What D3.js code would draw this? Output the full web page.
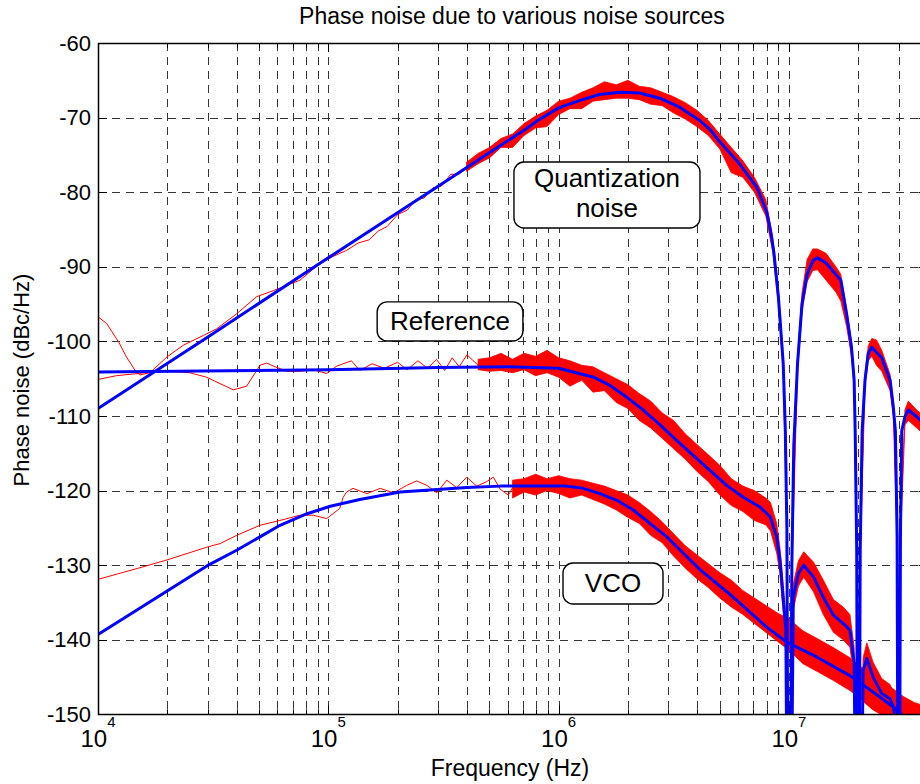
<!DOCTYPE html>
<html>
<head>
<meta charset="utf-8">
<script src="https://cdn.jsdelivr.net/npm/d3@7"></script>
<style>
  body { margin: 0; background: #fff; }
  svg { display: block; }
  text { font-family: Arial, "Liberation Sans", Helvetica, sans-serif; fill: #000; }
</style>
</head>
<body>
<svg id="chart" width="920" height="784"></svg>
<script>
// axis ticks
const xMajor = [1e4, 1e5, 1e6, 1e7];
const yTicks = [-150, -140, -130, -120, -110, -100, -90, -80, -70, -60];

// smooth model curves (blue), [Hz, dBc/Hz]
const quantModel = [
  [1e4, -109.0], [3e4, -99.4], [1e5, -88.8], [3e5, -79.2], [5e5, -74.7], [7e5, -71.8],
  [8.3e5, -70.2], [1.0e6, -68.7], [1.24e6, -67.7], [1.5e6, -66.9], [1.85e6, -66.6],
  [2.25e6, -66.7], [2.75e6, -67.4], [3.35e6, -68.6], [4.1e6, -70.4], [4.55e6, -71.6],
  [5.0e6, -73.2], [6.1e6, -76.2], [7.25e6, -79.3], [8.0e6, -82.6], [8.3e6, -85.0],
  [8.6e6, -88.0], [9.0e6, -94.0], [9.45e6, -103.0], [9.65e6, -112.0], [9.8e6, -125.0],
  [1.0e7, -200], [1.03e7, -130.0], [1.05e7, -114.0], [1.09e7, -103.0], [1.14e7, -95.0],
  [1.2e7, -91.0], [1.27e7, -89.2], [1.33e7, -88.8], [1.45e7, -89.5], [1.68e7, -91.8],
  [1.78e7, -96.3], [1.87e7, -100.8], [1.92e7, -105.2], [1.94e7, -112.0], [1.97e7, -128.0],
  [2.0e7, -200], [2.04e7, -128.0], [2.08e7, -112.0], [2.14e7, -105.2], [2.21e7, -101.6],
  [2.29e7, -100.8], [2.53e7, -102.2], [2.75e7, -105.2], [2.84e7, -108.8], [2.9e7, -112.0],
  [2.95e7, -126.0], [3.0e7, -200], [3.05e7, -126.0], [3.09e7, -112.0], [3.19e7, -110.1],
  [3.3e7, -109.2], [3.59e7, -110.1], [4.0e7, -111.5]
];
const refModel = [
  [1e4, -104.1], [1e5, -103.8], [3e5, -103.5], [6e5, -103.4], [1.0e6, -103.6],
  [1.42e6, -104.8], [1.67e6, -105.9], [1.98e6, -107.5], [2.33e6, -109.2], [2.76e6, -111.2],
  [3.26e6, -113.3], [3.85e6, -115.3], [4.54e6, -117.3], [5.37e6, -119.3], [6.34e6, -120.9],
  [7.49e6, -122.2], [8.28e6, -123.5], [8.85e6, -126.2], [9.14e6, -129.3], [9.3e6, -132.0],
  [9.7e6, -138.7], [1.0e7, -200], [1.045e7, -134.3], [1.1e7, -131.1], [1.16e7, -130.0],
  [1.28e7, -131.6], [1.41e7, -134.3], [1.56e7, -136.7], [1.72e7, -137.8], [1.84e7, -138.7],
  [1.92e7, -143.0], [2.0e7, -200], [2.1e7, -144.1], [2.18e7, -142.5], [2.32e7, -145.0],
  [2.53e7, -147.2], [2.75e7, -147.9], [2.84e7, -149.0], [2.95e7, -152.0], [3.0e7, -200]
];
const vcoModel = [
  [1e4, -139.3], [2.97e4, -130.1], [4.0e4, -128.0], [5.05e4, -126.2], [6.17e4, -124.65],
  [8.09e4, -123.1], [1.02e5, -122.1], [1.37e5, -121.2], [2.05e5, -120.2], [2.86e5, -119.9],
  [4.0e5, -119.6], [5.57e5, -119.4], [7.77e5, -119.4], [1.08e6, -119.4], [1.28e6, -119.7],
  [1.51e6, -120.4], [1.79e6, -121.3], [2.11e6, -122.6], [2.49e6, -124.4], [2.95e6, -126.2],
  [3.48e6, -128.4], [4.11e6, -130.6], [5.74e6, -134.3], [8.01e6, -138.3], [9.78e6, -140.3],
  [1.32e7, -142.3], [1.84e7, -144.8], [2.32e7, -147.0], [2.84e7, -149.0], [3.14e7, -150.3],
  [4.0e7, -152.0]
];

// simulated curves (red): smooth low-frequency part as a line
const quantSimLine = [
  [1e4, -96.7], [1.09e4, -97.6], [1.23e4, -100.1], [1.33e4, -102.1], [1.45e4, -103.9],
  [1.52e4, -104.5], [1.68e4, -104.2], [1.99e4, -102.1], [2.35e4, -100.5], [2.87e4, -99.2],
  [3.28e4, -98.3], [4.0e4, -96.3], [4.89e4, -94.0], [5.77e4, -93.2], [7.53e4, -91.8],
  [9.0e4, -89.8], [1.05e5, -88.6], [1.2e5, -87.8], [1.35e5, -86.8], [1.5e5, -86.4],
  [1.65e5, -85.2], [1.8e5, -84.6], [2.0e5, -83.0], [2.2e5, -82.4], [2.4e5, -81.0],
  [2.6e5, -80.8], [2.85e5, -79.4], [3.1e5, -79.2], [3.4e5, -77.6], [3.7e5, -77.6],
  [3.98e5, -76.6]
];
const refSimLine = [
  [1e4, -105.1], [1.2e4, -104.6], [1.5e4, -104.3], [1.68e4, -104.1], [2e4, -104.0],
  [2.5e4, -104.2], [2.96e4, -104.8], [3.87e4, -106.5], [4.42e4, -106.0], [5.05e4, -103.2],
  [5.4e4, -102.9], [5.77e4, -103.3], [6.6e4, -104.0], [7.53e4, -104.0], [8.6e4, -103.8],
  [9.84e4, -104.3], [1.09e5, -103.3], [1.26e5, -102.6], [1.37e5, -103.9], [1.55e5, -103.0],
  [1.75e5, -103.6], [2.0e5, -102.8], [2.2e5, -103.8], [2.45e5, -102.6], [2.7e5, -103.6],
  [2.95e5, -102.4], [3.2e5, -103.9], [3.45e5, -102.2], [3.7e5, -103.4], [4.0e5, -101.8],
  [4.47e5, -103.2]
];
const vcoSimLine = [
  [1e4, -131.9], [1.62e4, -130.1], [1.99e4, -129.3], [2.96e4, -127.6], [3.39e4, -127.1],
  [4.0e4, -126.0], [5.05e4, -124.65], [6.17e4, -124.0], [7.53e4, -123.3], [8.6e4, -123.3],
  [9.84e4, -123.75], [1.12e5, -122.4], [1.16e5, -120.9], [1.2e5, -120.2], [1.28e5, -119.7],
  [1.47e5, -120.4], [1.68e5, -119.7], [1.92e5, -120.3], [2.19e5, -119.3], [2.42e5, -118.7],
  [2.68e5, -119.3], [2.96e5, -120.3], [3.27e5, -118.6], [3.61e5, -119.6], [3.99e5, -118.2],
  [4.41e5, -119.4], [4.87e5, -118.8], [5.21e5, -118.2], [5.57e5, -119.8], [6.05e5, -120.6],
  [6.31e5, -119.6]
];

// simulated curves (red): noisy part as [Hz, low, high] envelope
const quantSimBand = [
  [3.98e5, -77.2, -76.0], [4.47e5, -76.2, -74.8], [5.01e5, -75.4, -74.0], [5.62e5, -74.0, -72.8],
  [6.31e5, -74.0, -72.2], [7.08e5, -72.4, -70.8], [7.94e5, -71.4, -69.8], [8.91e5, -71.2, -69.0],
  [1.0e6, -69.6, -67.8], [1.12e6, -68.8, -67.4], [1.26e6, -68.8, -66.6], [1.41e6, -67.8, -66.0],
  [1.58e6, -67.6, -65.2], [1.78e6, -67.4, -65.6], [2.0e6, -67.4, -65.0], [2.24e6, -67.6, -65.8],
  [2.51e6, -68.2, -66.0], [2.82e6, -68.4, -66.6], [3.16e6, -69.4, -67.2], [3.55e6, -70.2, -68.0],
  [3.98e6, -71.2, -69.0], [4.47e6, -72.4, -70.4], [5.01e6, -74.2, -72.2], [5.62e6, -77.4, -74.0],
  [6.31e6, -78.0, -75.8], [7.08e6, -80.0, -78.0], [7.94e6, -83.2, -81.0], [8.51e6, -88.0, -86.0],
  [9.0e6, -95.0, -93.0], [9.45e6, -104.0, -102.0], [9.8e6, -126.0, -124.0], [1.0e7, -200, -200],
  [1.03e7, -131.0, -129.0], [1.09e7, -104.0, -102.0], [1.14e7, -96.0, -93.5], [1.2e7, -92.0, -89.0],
  [1.27e7, -90.5, -87.6], [1.33e7, -90.4, -87.6], [1.45e7, -91.8, -88.2], [1.6e7, -93.4, -90.0],
  [1.68e7, -94.6, -91.0], [1.78e7, -98.0, -95.6], [1.87e7, -102.0, -100.0], [1.92e7, -106.0, -104.5],
  [1.97e7, -129.0, -127.0], [2.0e7, -200, -200], [2.04e7, -129.0, -127.0], [2.14e7, -106.0, -104.4],
  [2.21e7, -102.6, -100.6], [2.29e7, -102.0, -99.6], [2.4e7, -103.2, -99.8], [2.53e7, -104.0, -101.2],
  [2.75e7, -106.6, -104.4], [2.84e7, -110.0, -108.0], [2.95e7, -127.0, -125.0], [3.0e7, -200, -200],
  [3.05e7, -127.0, -125.0], [3.19e7, -111.2, -109.2], [3.3e7, -110.6, -108.0], [3.59e7, -111.6, -109.2],
  [4.0e7, -113.0, -110.5]
];
const refSimBand = [
  [4.47e5, -103.8, -102.4], [5.01e5, -104.0, -102.2], [5.62e5, -103.9, -101.6], [6.31e5, -104.2, -102.4],
  [7.08e5, -103.8, -101.6], [7.94e5, -104.6, -102.0], [8.91e5, -104.2, -101.2], [1.0e6, -104.8, -102.2],
  [1.12e6, -106.0, -102.6], [1.26e6, -105.2, -103.2], [1.41e6, -106.8, -103.4], [1.58e6, -106.6, -104.2],
  [1.78e6, -108.2, -105.0], [2.0e6, -109.0, -105.8], [2.24e6, -110.6, -107.0], [2.51e6, -111.6, -108.0],
  [2.82e6, -113.0, -109.6], [3.16e6, -114.4, -110.6], [3.55e6, -115.8, -112.4], [3.98e6, -117.4, -113.8],
  [4.47e6, -118.8, -115.2], [5.01e6, -120.6, -116.6], [5.62e6, -122.0, -118.4], [6.31e6, -122.8, -119.4],
  [7.08e6, -124.0, -120.0], [7.94e6, -124.6, -121.0], [8.32e6, -125.4, -121.6], [8.85e6, -128.4, -124.4],
  [9.14e6, -131.0, -127.6], [9.3e6, -134.0, -130.0], [9.7e6, -140.0, -137.0], [1.0e7, -200, -200],
  [1.045e7, -136.0, -132.5], [1.1e7, -132.8, -129.4], [1.16e7, -131.6, -128.2], [1.28e7, -133.6, -129.6],
  [1.41e7, -136.6, -132.0], [1.56e7, -139.0, -134.6], [1.72e7, -140.0, -135.6], [1.84e7, -141.0, -136.6],
  [1.92e7, -145.0, -141.0], [2.0e7, -200, -200], [2.1e7, -146.0, -142.4], [2.18e7, -144.6, -140.4],
  [2.32e7, -147.2, -143.0], [2.53e7, -149.2, -145.2], [2.75e7, -150.5, -146.0], [2.84e7, -152.0, -147.0],
  [2.95e7, -156.0, -150.0], [3.0e7, -200, -200]
];
const vcoSimBand = [
  [6.31e5, -121.0, -118.6], [7.08e5, -120.2, -118.4], [7.94e5, -120.6, -117.8], [8.91e5, -120.0, -118.4],
  [1.0e6, -120.4, -118.0], [1.12e6, -121.0, -118.4], [1.26e6, -120.6, -118.6], [1.41e6, -121.2, -119.0],
  [1.58e6, -121.8, -119.4], [1.78e6, -122.6, -120.0], [2.0e6, -123.6, -120.6], [2.24e6, -124.4, -121.6],
  [2.51e6, -126.0, -122.8], [2.82e6, -127.0, -124.2], [3.16e6, -128.8, -125.8], [3.55e6, -130.4, -127.4],
  [3.98e6, -131.8, -128.6], [4.47e6, -133.0, -129.8], [5.01e6, -134.4, -131.0], [5.62e6, -135.6, -132.0],
  [6.31e6, -136.6, -133.4], [7.08e6, -137.8, -134.4], [7.94e6, -139.0, -135.4], [8.91e6, -140.2, -136.4],
  [1.0e7, -141.4, -137.2], [1.15e7, -143.2, -138.8], [1.32e7, -144.2, -139.8], [1.55e7, -145.4, -141.0],
  [1.84e7, -146.8, -142.4], [2.05e7, -148.0, -143.6], [2.32e7, -149.4, -144.6], [2.84e7, -151.0, -146.6],
  [3.14e7, -152.0, -147.6], [3.5e7, -153.0, -148.4], [4.0e7, -154.0, -149.0]
];

// text boxes on the plot: label lines, corners in data units
const boxes = [
  { lines: ['Quantization', 'noise'], f0: 6.4e5, v0: -75.95, f1: 4.11e6, v1: -84.8 },
  { lines: ['Reference'], f0: 1.63e5, v0: -94.7, f1: 7.0e5, v1: -99.95 },
  { lines: ['VCO'], f0: 1.045e6, v0: -129.7, f1: 2.84e6, v1: -135.2 }
];

const svg = d3.select('#chart');
const mLeft = 98, mTop = 43, mBottom = 714.4;
const x = d3.scaleLog().domain([1e4, 4e7]).range([mLeft, mLeft + 230.3 * Math.log10(4000)]);
const y = d3.scaleLinear().domain([-150, -60]).range([mBottom, mTop]);
const mRight = x.range()[1];

svg.append('defs').append('clipPath').attr('id', 'plotclip')
  .append('rect')
  .attr('x', mLeft).attr('y', mTop)
  .attr('width', mRight - mLeft).attr('height', mBottom - mTop);

// grid
const grid = svg.append('g').attr('stroke', '#111').attr('stroke-width', 1)
  .attr('stroke-dasharray', '8,6').attr('opacity', 0.85);
grid.selectAll('line.gx').data(x.ticks()).join('line')
  .attr('x1', d => Math.round(x(d)) + 0.5).attr('x2', d => Math.round(x(d)) + 0.5)
  .attr('y1', mTop).attr('y2', mBottom);
grid.selectAll('line.gy').data(yTicks).join('line')
  .attr('x1', mLeft).attr('x2', mRight)
  .attr('y1', d => Math.round(y(d)) + 0.5).attr('y2', d => Math.round(y(d)) + 0.5);

// ticks (inside)
const ticks = svg.append('g').attr('stroke', '#000').attr('stroke-width', 1);
x.ticks().forEach(d => {
  const len = xMajor.includes(d) ? 9 : 5;
  const px = Math.round(x(d)) + 0.5;
  ticks.append('line').attr('x1', px).attr('x2', px).attr('y1', mBottom).attr('y2', mBottom - len);
  ticks.append('line').attr('x1', px).attr('x2', px).attr('y1', mTop).attr('y2', mTop + len);
});
yTicks.forEach(d => {
  const py = Math.round(y(d)) + 0.5;
  ticks.append('line').attr('x1', mLeft).attr('x2', mLeft + 9).attr('y1', py).attr('y2', py);
  ticks.append('line').attr('x1', mRight).attr('x2', mRight - 9).attr('y1', py).attr('y2', py);
});

// curves
const plot = svg.append('g').attr('clip-path', 'url(#plotclip)');
const line = d3.line().x(d => x(d[0])).y(d => y(d[1]));
const band = d3.area().x(d => x(d[0])).y0(d => y(d[1])).y1(d => y(d[2]));

[quantSimBand, refSimBand, vcoSimBand].forEach(b => {
  plot.append('path').datum(b).attr('d', band)
    .attr('fill', '#ff0000').attr('stroke', '#ff0000').attr('stroke-width', 0.8);
});
[quantSimLine, refSimLine, vcoSimLine].forEach(l => {
  plot.append('path').datum(l).attr('d', line)
    .attr('fill', 'none').attr('stroke', '#ff0000').attr('stroke-width', 1);
});
[quantModel, refModel, vcoModel].forEach(m => {
  plot.append('path').datum(m).attr('d', line)
    .attr('fill', 'none').attr('stroke', '#0000ff').attr('stroke-width', 3)
    .attr('stroke-linejoin', 'round');
});

// axes box
svg.append('path')
  .attr('d', `M${mLeft + 0.5},${mTop}V${mBottom}H${mRight}M${mLeft},${mTop + 0.5}H${mRight}`)
  .attr('fill', 'none').attr('stroke', '#000').attr('stroke-width', 1.5);

// tick labels
svg.selectAll('text.ylab').data(yTicks).join('text')
  .attr('x', 91).attr('y', d => y(d) + 7.5)
  .attr('text-anchor', 'end').attr('font-size', 22)
  .text(d => d);

const xl = svg.selectAll('text.xlab').data(xMajor).join('text')
  .attr('x', d => x(d)).attr('y', 747)
  .attr('text-anchor', 'middle');
xl.append('tspan').attr('font-size', 24).text('10');
xl.append('tspan').attr('font-size', 15).attr('dy', -20).text(d => Math.round(Math.log10(d)));

// boxes
boxes.forEach(b => {
  const bx = x(b.f0), by = y(b.v0), bw = x(b.f1) - bx, bh = y(b.v1) - by;
  svg.append('rect').attr('x', bx).attr('y', by).attr('width', bw).attr('height', bh)
    .attr('rx', 10).attr('fill', '#fff').attr('stroke', '#000').attr('stroke-width', 1.4);
  const t = svg.append('text').attr('text-anchor', 'middle').attr('font-size', 26);
  const n = b.lines.length;
  b.lines.forEach((s, i) => {
    t.append('tspan').attr('x', bx + bw / 2)
      .attr('y', by + bh / 2 + (n > 1 ? 7 : 9) + (i - (n - 1) / 2) * 30)
      .text(s);
  });
});

// titles
svg.append('text').attr('x', 512).attr('y', 24).attr('text-anchor', 'middle')
  .attr('font-size', 23).text('Phase noise due to various noise sources');
svg.append('text').attr('x', 510).attr('y', 776).attr('text-anchor', 'middle')
  .attr('font-size', 23).text('Frequency (Hz)');
svg.append('text').attr('transform', 'translate(29,380) rotate(-90)')
  .attr('text-anchor', 'middle').attr('font-size', 22).text('Phase noise (dBc/Hz)');
</script>
</body>
</html>
